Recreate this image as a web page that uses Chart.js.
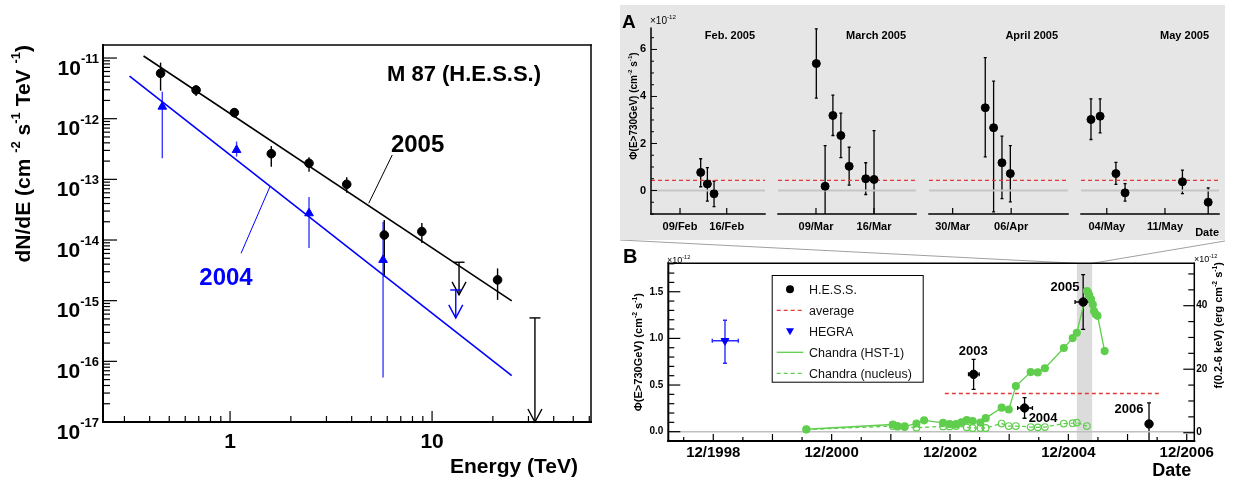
<!DOCTYPE html>
<html>
<head>
<meta charset="utf-8">
<title>M 87 H.E.S.S.</title>
<script src="https://cdn.jsdelivr.net/npm/chart.js"></script>
<style>
  body { margin: 0; background: #fff; }
  #page { position: relative; width: 1236px; height: 479px; overflow: hidden; }
  #page > div { position: absolute; }
  canvas { display: block; }
</style>
</head>
<body>
<div id="page">
  <div style="left:0;top:0"><canvas id="spec" width="600" height="479"></canvas></div>
  <div style="left:620px;top:5px;width:605px;height:235px;background:#e6e6e6"></div>
  <div style="left:620px;top:5px"><canvas id="pad0" width="151" height="235"></canvas></div>
  <div style="left:771px;top:5px"><canvas id="pad1" width="151" height="235"></canvas></div>
  <div style="left:922px;top:5px"><canvas id="pad2" width="152" height="235"></canvas></div>
  <div style="left:1074px;top:5px"><canvas id="pad3" width="151" height="235"></canvas></div>
  <div style="left:600px;top:240px"><canvas id="lc" width="636" height="239"></canvas></div>
</div>
<script>
var FAM = '"Liberation Sans", Arial, Helvetica, sans-serif';
Chart.defaults.font.family = FAM;
Chart.defaults.color = '#000';
Chart.defaults.animation = false;
Chart.defaults.events = [];
Chart.defaults.plugins.legend.display = false;
Chart.defaults.plugins.tooltip.enabled = false;

// ---- left: M 87 spectrum (E in TeV, dN/dE in cm-2 s-1 TeV-1) ----
var e2005 = [0.453, 0.679, 1.05, 1.60, 2.46, 3.78, 5.80, 8.90, 21.1];
var f2005 = [5.6e-12, 2.97e-12, 1.26e-12, 2.65e-13, 1.84e-13, 8.3e-14, 1.21e-14, 1.38e-14, 2.2e-15];
var f2005Hi = [8.4e-12, 3.6e-12, 1.48e-12, 3.55e-13, 2.31e-13, 1.08e-13, 2.13e-14, 1.9e-14, 3.4e-15];
var f2005Lo = [2.9e-12, 2.37e-12, 1.05e-12, 1.62e-13, 1.34e-13, 6.0e-14, 2.5e-15, 8.9e-15, 1.03e-15];
var ul2005E = [13.6, 32.3];
var ul2005F = [4.3e-15, 5.2e-16];
var ul2005Tip = [1.25e-15, 1e-17];
var e2004 = [0.462, 1.077, 2.46, 5.72];
var f2004 = [1.58e-12, 3.05e-13, 2.76e-14, 4.7e-15];
var f2004Hi = [2.79e-12, 4.2e-13, 5.1e-14, 2.0e-14];
var f2004Lo = [2.23e-13, 2.37e-13, 7.4e-15, 5.4e-17];
var ul2004E = [13.1];
var ul2004F = [1.5e-15];
var ul2004Tip = [5.2e-16];
var fit2005E = [0.373, 24.8];
var fit2005F = [1.08e-11, 9.9e-16];
var fit2004E = [0.318, 24.8];
var fit2004F = [5.05e-12, 5.8e-17];
var ptr2005E = [6.35, 4.86];
var ptr2005F = [2.52e-13, 4.04e-14];
var ptr2004E = [1.134, 1.576];
var ptr2004F = [6.05e-15, 7.58e-14];
var specXTicks = [0.3, 0.4, 0.5, 0.6, 0.7, 0.8, 0.9, 1, 2, 3, 4, 5, 6, 7, 8, 9, 10, 20, 30, 40, 50, 60];
var specDecades = [-17, -16, -15, -14, -13, -12, -11];

// ---- panel A: nightly flux 2005 (day of year, 1e-12 cm-2 s-1) ----
var febDay = [43.1, 44.1, 45.1];
var febFlux = [0.77, 0.28, -0.14];
var febHi = [1.35, 0.97, 0.40];
var febLo = [0.16, -0.45, -0.69];
var marDay = [68.04, 69.1, 70.04, 71.0, 72.0, 74.0, 75.0];
var marFlux = [5.40, 0.18, 3.19, 2.34, 1.03, 0.50, 0.47];
var marHi = [6.88, 1.91, 4.06, 3.29, 1.84, 1.18, 2.55];
var marLo = [3.93, -1.55, 2.34, 1.40, 0.23, -0.17, -1.6];
var aprDay = [92.9, 93.9, 94.9, 95.9];
var aprFlux = [3.52, 2.67, 1.18, 0.72];
var aprHi = [5.65, 4.65, 2.31, 1.91];
var aprLo = [1.43, -0.91, -0.35, -0.48];
var mayDay = [122.1, 123.2, 125.1, 126.2, 133.1, 136.2];
var mayFlux = [3.02, 3.16, 0.72, -0.10, 0.37, -0.50];
var mayHi = [3.90, 3.90, 1.20, 0.29, 0.87, 0.11];
var mayLo = [2.17, 2.45, 0.26, -0.45, -0.13, -1.1];
var avgA = 0.43;
var padMin = [35.65, 63.42, 86.17, 120.9];
var padMax = [52.74, 80.06, 102.8, 137.5];
var padTicks = [[40, 47], [68, 75], [89, 96], [124, 131]];
var padTickLabels = [['09/Feb', '16/Feb'], ['09/Mar', '16/Mar'], ['30/Mar', '06/Apr'], ['04/May', '11/May']];
var padTitles = ['Feb. 2005', 'March 2005', 'April 2005', 'May 2005'];
var padYTicks = [-1, -0.5, 0, 0.5, 1, 1.5, 2, 2.5, 3, 3.5, 4, 4.5, 5, 5.5, 6, 6.5];
var padYLabels = [0, 2, 4, 6];

// ---- panel B: light curve (decimal year) ----
var hessYear = [2003.316, 2004.177, 2005.167, 2006.28];
var hessFlux = [0.615, 0.254, 1.39, 0.083];
var hessHi = [0.776, 0.364, 1.683, 0.308];
var hessLo = [0.454, 0.144, 1.097, -0.142];
var hessXLo = [2003.23, 2004.06, 2005.03, 2006.28];
var hessXHi = [2003.41, 2004.31, 2005.30, 2006.28];
var hegraYear = [1999.115];
var hegraFlux = [0.975];
var hegraHi = [1.194];
var hegraLo = [0.733];
var hegraXLo = [1998.90];
var hegraXHi = [1999.34];
var hstYear = [2000.49, 2001.95, 2002.03, 2002.15, 2002.35, 2002.48, 2002.80, 2002.91, 2003.02, 2003.11, 2003.20,
  2003.30, 2003.43, 2003.52, 2003.79, 2003.91, 2004.03, 2004.28, 2004.40, 2004.52, 2004.84, 2004.99, 2005.06,
  2005.23, 2005.25, 2005.27, 2005.30, 2005.33, 2005.35, 2005.38, 2005.41, 2005.53];
var hstFlux = [1.1, 2.6, 2.1, 2.0, 2.9, 3.9, 3.1, 2.7, 2.7, 3.3, 4.0, 3.7, 3.2, 4.6, 7.9, 7.3, 14.7, 19.1, 19.0,
  20.3, 26.7, 29.8, 31.5, 44.6, 44.2, 43.3, 42.0, 40.4, 38.3, 37.3, 36.8, 25.7];
var nucYear = [2000.49, 2001.95, 2002.03, 2002.15, 2002.35, 2002.80, 2002.91, 2003.02, 2003.20, 2003.30, 2003.43,
  2003.52, 2003.79, 2003.91, 2004.03, 2004.28, 2004.40, 2004.52, 2004.84, 2004.99, 2005.06, 2005.23];
var nucFlux = [1.0, 2.1, 1.9, 1.8, 1.6, 2.0, 2.0, 2.1, 1.7, 1.5, 1.5, 1.5, 2.9, 2.1, 2.1, 1.8, 1.7, 1.8, 2.9, 3.0,
  3.2, 2.1];
var lcAvgYears = [2002.83, 2006.47];
var lcAvg = 0.41;
var lcBand = [2005.06, 2005.32];
var lcXMin = 1998.157, lcXMax = 2007.045;
var lcTickYears = [1998.417, 1998.917, 1999.417, 1999.917, 2000.417, 2000.917, 2001.417, 2001.917, 2002.417,
  2002.917, 2003.417, 2003.917, 2004.417, 2004.917, 2005.417, 2005.917, 2006.417, 2006.917];
var lcLabelYears = [1998.917, 2000.917, 2002.917, 2004.917, 2006.917];
var lcLabels = ['12/1998', '12/2000', '12/2002', '12/2004', '12/2006'];
var lcYTicks = [0, 0.1, 0.2, 0.3, 0.4, 0.5, 0.6, 0.7, 0.8, 0.9, 1, 1.1, 1.2, 1.3, 1.4, 1.5, 1.6, 1.7, 1.8];
var lcY2Ticks = [0, 5, 10, 15, 20, 25, 30, 35, 40, 45, 50];
var lcNotes = [['2003', 2003.31, 0.876], ['2004', 2004.49, 0.15], ['2005', 2004.86, 1.56], ['2006', 2005.94, 0.25]];
var GREEN = '#5fce4c';
var RED = '#e23a3a';

// ---- helpers ----
function pts(xs, ys) { return xs.map(function (x, i) { return { x: x, y: ys[i] }; }); }
function seg(ctx, x1, y1, x2, y2) { ctx.beginPath(); ctx.moveTo(x1, y1); ctx.lineTo(x2, y2); ctx.stroke(); }
function isDecade(v) { var l = Math.log10(v); return Math.abs(l - Math.round(l)) < 1e-6; }
function tickList(vals) { return function (s) { s.ticks = vals.map(function (v) { return { value: v }; }); }; }
function fixW(w) { return function (s) { s.width = w; }; }
function fixH(h) { return function (s) { s.height = h; }; }
var noGrid = { display: false, drawTicks: false };
var noBorder = { display: false };

function richText(ctx, segs, x, y, size, bold, align, rot, color, raise) {
  ctx.save();
  ctx.translate(x, y);
  if (rot) ctx.rotate(rot);
  ctx.fillStyle = color || '#000';
  ctx.textBaseline = 'alphabetic';
  ctx.textAlign = 'left';
  var w = bold ? 'bold ' : '';
  var parts = segs.map(function (s) {
    var sup = s.charAt(0) === '^';
    var t = sup ? s.slice(1) : s;
    var sz = sup ? size * 0.62 : size;
    ctx.font = w + sz + 'px ' + FAM;
    return { t: t, sup: sup, sz: sz, w: ctx.measureText(t).width };
  });
  var total = parts.reduce(function (a, p) { return a + p.w; }, 0);
  var cx = align === 'right' ? -total : (align === 'center' ? -total / 2 : 0);
  var base = size * 0.36;
  var up = size * (raise || 0.45);
  parts.forEach(function (p) {
    ctx.font = w + p.sz + 'px ' + FAM;
    ctx.fillText(p.t, cx, base - (p.sup ? up : 0));
    cx += p.w;
  });
  ctx.restore();
}

function drawErrors(c) {
  var ctx = c.ctx, a = c.chartArea;
  ctx.save();
  ctx.beginPath();
  ctx.rect(a.left, a.top, a.right - a.left, a.bottom - a.top);
  ctx.clip();
  var sets = c.data.datasets.slice().reverse();
  sets.forEach(function (ds) {
    var e = ds.err;
    if (!e) return;
    var sx = c.scales[ds.xAxisID || 'x'], sy = c.scales[ds.yAxisID || 'y'];
    ctx.strokeStyle = e.color;
    ctx.lineWidth = e.width;
    ds.data.forEach(function (p, i) {
      var x = sx.getPixelForValue(p.x), y = sy.getPixelForValue(p.y);
      if (e.yLo) {
        var y1 = sy.getPixelForValue(e.yLo[i]), y2 = sy.getPixelForValue(e.yHi[i]);
        seg(ctx, x, y1, x, y2);
        if (e.cap) { seg(ctx, x - e.cap, y1, x + e.cap, y1); seg(ctx, x - e.cap, y2, x + e.cap, y2); }
      }
      if (e.xLo && e.xLo[i] !== e.xHi[i]) {
        var x1 = sx.getPixelForValue(e.xLo[i]), x2 = sx.getPixelForValue(e.xHi[i]);
        seg(ctx, x1, y, x2, y);
        if (e.cap) { seg(ctx, x1, y - e.cap, x1, y + e.cap); seg(ctx, x2, y - e.cap, x2, y + e.cap); }
      }
    });
  });
  ctx.restore();
}

function drawLimits(c) {
  var ctx = c.ctx;
  c.data.datasets.forEach(function (ds) {
    var u = ds.ul;
    if (!u) return;
    var sx = c.scales.x, sy = c.scales.y;
    ctx.save();
    ctx.strokeStyle = u.color;
    ctx.lineWidth = u.width;
    ds.data.forEach(function (p, i) {
      var x = sx.getPixelForValue(p.x), y1 = sy.getPixelForValue(p.y), y2 = sy.getPixelForValue(u.tip[i]);
      seg(ctx, x - u.cap, y1, x + u.cap, y1);
      seg(ctx, x, y1, x, y2);
      ctx.beginPath();
      ctx.moveTo(x - u.head, y2 - u.len);
      ctx.lineTo(x, y2);
      ctx.lineTo(x + u.head, y2 - u.len);
      ctx.stroke();
    });
    ctx.restore();
  });
}

function frame(c, sides, w, wThin) {
  var ctx = c.ctx, a = c.chartArea;
  ctx.save();
  ctx.strokeStyle = '#000';
  ctx.lineCap = 'square';
  ctx.lineWidth = w;
  if (sides.indexOf('l') >= 0) seg(ctx, a.left, a.top, a.left, a.bottom);
  if (sides.indexOf('b') >= 0) seg(ctx, a.left, a.bottom, a.right, a.bottom);
  ctx.lineWidth = wThin || w;
  if (sides.indexOf('t') >= 0) seg(ctx, a.left, a.top, a.right, a.top);
  if (sides.indexOf('r') >= 0) seg(ctx, a.right, a.top, a.right, a.bottom);
  ctx.restore();
}

function inTicks(c, id, side, isMajor, majLen, minLen, w) {
  var s = c.scales[id], ctx = c.ctx, a = c.chartArea;
  ctx.save();
  ctx.strokeStyle = '#000';
  ctx.lineWidth = w;
  s.ticks.forEach(function (t) {
    var p = s.getPixelForValue(t.value);
    var L = isMajor(t.value) ? majLen : minLen;
    if (side === 'bottom') seg(ctx, p, a.bottom, p, a.bottom - L);
    else if (side === 'left') seg(ctx, a.left, p, a.left + L, p);
    else seg(ctx, a.right, p, a.right - L, p);
  });
  ctx.restore();
}

// ---- left chart ----
var specYTicks = [];
specDecades.forEach(function (d) {
  for (var k = 1; k <= 9; k++) {
    var v = k * Math.pow(10, d);
    if (v <= 1.64e-11) specYTicks.push(v);
  }
});

var specPlugin = {
  id: 'specDeco',
  beforeDatasetsDraw: drawErrors,
  afterDatasetsDraw: function (c) {
    var ctx = c.ctx, a = c.chartArea, sx = c.scales.x, sy = c.scales.y;
    drawLimits(c);
    inTicks(c, 'x', 'bottom', isDecade, 11, 6, 1.2);
    inTicks(c, 'y', 'left', isDecade, 14, 7, 1.2);
    frame(c, 'lbtr', 2, 1.5);
    sy.ticks.forEach(function (t) {
      if (!isDecade(t.value)) return;
      var y = sy.getPixelForValue(t.value);
      richText(ctx, ['10', '^' + Math.round(Math.log10(t.value))], a.left - 4, y + 9, 21, true, 'right', 0, '#000', 0.55);
    });
    richText(ctx, ['dN/dE (cm ', '^-2', ' s', '^-1', ' TeV ', '^-1', ')'], 22, a.top, 21, true, 'right', -Math.PI / 2);
    richText(ctx, ['Energy (TeV)'], 578, 465, 21, true, 'right');
    richText(ctx, ['M 87 (H.E.S.S.)'], 387, 73, 22, true, 'left');
    richText(ctx, ['2005'], sx.getPixelForValue(8.48), sy.getPixelForValue(3.98e-13), 24, true, 'center');
    richText(ctx, ['2004'], sx.getPixelForValue(0.955), sy.getPixelForValue(2.47e-15), 24, true, 'center', 0, '#0000ff');
  }
};

new Chart(document.getElementById('spec'), {
  type: 'scatter',
  data: {
    datasets: [
      { label: '2005', data: pts(e2005, f2005), pointStyle: 'circle', pointRadius: 4.3,
        backgroundColor: '#000', borderColor: '#000', err: { yLo: f2005Lo, yHi: f2005Hi, color: '#000', width: 1.4 } },
      { label: '2004', data: pts(e2004, f2004), pointStyle: 'triangle', pointRadius: 5,
        backgroundColor: '#0000ff', borderColor: '#0000ff', err: { yLo: f2004Lo, yHi: f2004Hi, color: '#3c3cff', width: 1.4 } },
      { label: '2005 UL', data: pts(ul2005E, ul2005F), pointRadius: 0,
        ul: { tip: ul2005Tip, color: '#000', cap: 5.5, head: 7, len: 13, width: 1.4 } },
      { label: '2004 UL', data: pts(ul2004E, ul2004F), pointRadius: 0,
        ul: { tip: ul2004Tip, color: '#0000ff', cap: 5.5, head: 7, len: 13, width: 1.4 } },
      { label: '2005 fit', data: pts(fit2005E, fit2005F), showLine: true, pointRadius: 0, borderColor: '#000', borderWidth: 1.6 },
      { label: '2004 fit', data: pts(fit2004E, fit2004F), showLine: true, pointRadius: 0, borderColor: '#0000ff', borderWidth: 1.6 },
      { label: '2005 note', data: pts(ptr2005E, ptr2005F), showLine: true, pointRadius: 0, borderColor: '#000', borderWidth: 1 },
      { label: '2004 note', data: pts(ptr2004E, ptr2004F), showLine: true, pointRadius: 0, borderColor: '#0000ff', borderWidth: 1 }
    ]
  },
  options: {
    responsive: false,
    devicePixelRatio: 1,
    layout: { padding: { left: 0, top: 45, right: 9, bottom: 0 } },
    scales: {
      x: {
        type: 'logarithmic', bounds: 'data', min: 0.235, max: 61.2,
        afterBuildTicks: tickList(specXTicks), afterFit: fixH(57),
        grid: noGrid, border: noBorder,
        ticks: {
          autoSkip: false, maxRotation: 0, padding: 8, font: { size: 21, weight: 'bold' },
          callback: function (v) { return v === 1 ? '1' : (v === 10 ? '10' : ''); }
        }
      },
      y: {
        type: 'logarithmic', bounds: 'data', min: 1e-17, max: 1.64e-11,
        afterBuildTicks: tickList(specYTicks), afterFit: fixW(103),
        grid: noGrid, border: noBorder, ticks: { display: false }
      }
    }
  },
  plugins: [specPlugin]
});

// ---- panel A: four monthly pads ----
var padSets = [
  { day: febDay, flux: febFlux, hi: febHi, lo: febLo },
  { day: marDay, flux: marFlux, hi: marHi, lo: marLo },
  { day: aprDay, flux: aprFlux, hi: aprHi, lo: aprLo },
  { day: mayDay, flux: mayFlux, hi: mayHi, lo: mayLo }
];

function makePad(k) {
  var first = k === 0, P = padSets[k];
  var plugin = {
    id: 'padDeco' + k,
    beforeDatasetsDraw: drawErrors,
    afterDatasetsDraw: function (c) {
      var ctx = c.ctx, a = c.chartArea;
      inTicks(c, 'x', 'bottom', function () { return true; }, 6, 6, 1.2);
      if (first) {
        inTicks(c, 'y', 'left', function (v) { return Math.abs(v / 2 - Math.round(v / 2)) < 1e-6; }, 6, 3, 1);
      }
      frame(c, first ? 'lb' : 'b', 1.5);
      richText(ctx, [padTitles[k]], a.right - 10, 30, 11, true, 'right');
      if (first) {
        richText(ctx, ['A'], 2, 16, 19, true, 'left');
        richText(ctx, ['\u00d710', '^-12'], 30, 15, 10, false, 'left');
        richText(ctx, ['\u03a6(E>730GeV) (cm', '^-2', ' s', '^-1', ')'], 13, 101, 10, true, 'center', -Math.PI / 2);
      }
      if (k === 3) richText(ctx, ['Date'], a.right, 227, 11, true, 'right');
    }
  };
  var yScale = {
    type: 'linear', bounds: 'data', min: -1, max: 6.9, display: first,
    afterBuildTicks: tickList(padYTicks),
    grid: noGrid, border: noBorder,
    ticks: {
      autoSkip: false, padding: 5, font: { size: 11, weight: 'bold' },
      callback: function (v) { return padYLabels.indexOf(v) >= 0 ? String(v) : ''; }
    }
  };
  if (first) yScale.afterFit = fixW(31);
  return new Chart(document.getElementById('pad' + k), {
    type: 'scatter',
    data: {
      datasets: [
        { label: padTitles[k], data: pts(P.day, P.flux), pointRadius: 4, backgroundColor: '#000', borderColor: '#000',
          err: { yLo: P.lo, yHi: P.hi, cap: 1.5, color: '#000', width: 1.3 } },
        { label: 'average', data: pts([padMin[k], padMax[k]], [avgA, avgA]), showLine: true, pointRadius: 0,
          borderColor: RED, borderWidth: 1.3, borderDash: [4, 3] },
        { label: 'zero', data: pts([padMin[k], padMax[k]], [0, 0]), showLine: true, pointRadius: 0,
          borderColor: '#c6c6c6', borderWidth: 2 }
      ]
    },
    options: {
      responsive: false,
      devicePixelRatio: 1,
      layout: { padding: { left: first ? 0 : 7, right: 6, top: 23.3, bottom: 0 } },
      scales: {
        x: {
          type: 'linear', bounds: 'data', min: padMin[k], max: padMax[k],
          afterBuildTicks: tickList(padTicks[k]), afterFit: fixH(26),
          grid: noGrid, border: noBorder,
          ticks: {
            autoSkip: false, maxRotation: 0, padding: 6, font: { size: 11, weight: 'bold' },
            callback: function (v, i) { return padTickLabels[k][i]; }
          }
        },
        y: yScale
      }
    },
    plugins: [plugin]
  });
}
[0, 1, 2, 3].forEach(makePad);

// ---- panel B: long-term light curve ----
var lcPlugin = {
  id: 'lcDeco',
  beforeDatasetsDraw: function (c) {
    var ctx = c.ctx, a = c.chartArea, sx = c.scales.x;
    var x1 = sx.getPixelForValue(lcBand[0]), x2 = sx.getPixelForValue(lcBand[1]);
    ctx.save();
    ctx.fillStyle = '#dcdcdc';
    ctx.fillRect(x1, a.top, x2 - x1, a.bottom - a.top);
    ctx.restore();
    drawErrors(c);
  },
  afterDatasetsDraw: function (c) {
    var ctx = c.ctx, a = c.chartArea, sx = c.scales.x, sy = c.scales.y;
    var x1 = sx.getPixelForValue(lcBand[0]), x2 = sx.getPixelForValue(lcBand[1]);
    // zoom connectors up to panel A (panel A spans x 620..1225, bottom at y 240 of the page)
    ctx.save();
    ctx.strokeStyle = '#a0a0a0';
    ctx.lineWidth = 1;
    seg(ctx, 20, 0, x1, a.top);
    seg(ctx, 625, 1, x2, a.top);
    ctx.restore();
    inTicks(c, 'x', 'bottom', function (v) { var f = v + 0.083; return Math.abs(f - Math.round(f)) < 0.01; }, 7, 4, 1.2);
    inTicks(c, 'y', 'left', function (v) { return Math.abs(v * 2 - Math.round(v * 2)) < 1e-6; }, 12, 6, 1.2);
    inTicks(c, 'y2', 'right', function (v) { return v % 20 === 0; }, 11, 6, 1.2);
    frame(c, 'lbtr', 2, 1.5);
    // legend
    var bx = 171.7, by = 35, bw = 151, bh = 106.7;
    ctx.save();
    ctx.fillStyle = '#fff';
    ctx.fillRect(bx, by, bw, bh);
    ctx.strokeStyle = '#000';
    ctx.lineWidth = 1;
    ctx.strokeRect(bx + 0.5, by + 0.5, bw, bh);
    var items = c.data.datasets.filter(function (d) { return d.leg; }).sort(function (p, q) { return p.leg - q.leg; });
    items.forEach(function (d, i) {
      var y = by + 14.3 + i * 21, mx = bx + 18.3;
      ctx.strokeStyle = d.borderColor;
      ctx.fillStyle = d.backgroundColor;
      ctx.lineWidth = 1.3;
      if (d.legKind === 'dot') {
        ctx.beginPath(); ctx.arc(mx, y, 4, 0, Math.PI * 2); ctx.fill();
      } else if (d.legKind === 'tri') {
        ctx.beginPath(); ctx.moveTo(mx - 4, y - 3); ctx.lineTo(mx + 4, y - 3); ctx.lineTo(mx, y + 4); ctx.closePath(); ctx.fill();
      } else {
        ctx.setLineDash(d.legKind === 'dash' ? [4, 3] : []);
        seg(ctx, bx + 5, y, bx + 31.6, y);
        ctx.setLineDash([]);
      }
      richText(ctx, [d.label], bx + 37.3, y, 12.5, false, 'left', 0, '#111');
    });
    ctx.restore();
    lcNotes.forEach(function (n) {
      richText(ctx, [n[0]], sx.getPixelForValue(n[1]), sy.getPixelForValue(n[2]), 13, true, 'center');
    });
    richText(ctx, ['B'], 23, 15.5, 20, true, 'left');
    richText(ctx, ['\u00d710', '^-12'], 67, 19.7, 9, false, 'left');
    richText(ctx, ['\u00d710', '^-12'], 594, 19, 9, false, 'left');
    richText(ctx, ['\u03a6(E>730GeV) (cm', '^-2', ' s', '^-1', ')'], 38, (a.top + a.bottom) / 2, 11, true, 'center', -Math.PI / 2);
    richText(ctx, ['f(0.2-6 keV) (erg cm', '^-2', ' s', '^-1', ')'], 617.7, 22, 11, true, 'right', -Math.PI / 2);
    richText(ctx, ['Date'], a.right - 3, 230, 18, true, 'right');
  }
};

new Chart(document.getElementById('lc'), {
  type: 'scatter',
  data: {
    datasets: [
      { label: 'H.E.S.S.', leg: 1, legKind: 'dot', data: pts(hessYear, hessFlux), pointRadius: 4.2,
        backgroundColor: '#000', borderColor: '#000',
        err: { yLo: hessLo, yHi: hessHi, xLo: hessXLo, xHi: hessXHi, cap: 2, color: '#000', width: 1.3 } },
      { label: 'HEGRA', leg: 3, legKind: 'tri', data: pts(hegraYear, hegraFlux), pointStyle: 'triangle', pointRotation: 180,
        pointRadius: 4.5, backgroundColor: '#0000ff', borderColor: '#0000ff',
        err: { yLo: hegraLo, yHi: hegraHi, xLo: hegraXLo, xHi: hegraXHi, cap: 2, color: '#2a2aff', width: 1.4 } },
      { label: 'Chandra (HST-1)', leg: 4, legKind: 'line', yAxisID: 'y2', data: pts(hstYear, hstFlux), showLine: true,
        pointRadius: 3.4, backgroundColor: GREEN, borderColor: GREEN, borderWidth: 1.3 },
      { label: 'Chandra (nucleus)', leg: 5, legKind: 'dash', yAxisID: 'y2', data: pts(nucYear, nucFlux), showLine: true,
        borderDash: [4, 3], pointRadius: 3.3, pointBorderWidth: 1.2, backgroundColor: 'rgba(0,0,0,0)',
        borderColor: GREEN, borderWidth: 1.3 },
      { label: 'average', leg: 2, legKind: 'dash', data: pts(lcAvgYears, [lcAvg, lcAvg]), showLine: true, pointRadius: 0,
        borderColor: RED, backgroundColor: RED, borderWidth: 1.4, borderDash: [4, 3] },
      { label: 'zero', data: pts([lcXMin, lcXMax], [0, 0]), showLine: true, pointRadius: 0,
        borderColor: '#c0c0c0', borderWidth: 1.5 }
    ]
  },
  options: {
    responsive: false,
    devicePixelRatio: 1,
    layout: { padding: { left: 0, top: 23.3, right: 0, bottom: 0 } },
    scales: {
      x: {
        type: 'linear', bounds: 'data', min: lcXMin, max: lcXMax,
        afterBuildTicks: tickList(lcTickYears), afterFit: fixH(38),
        grid: noGrid, border: noBorder,
        ticks: {
          autoSkip: false, maxRotation: 0, padding: 3, font: { size: 15, weight: 'bold' },
          callback: function (v) {
            for (var i = 0; i < lcLabelYears.length; i++) if (Math.abs(v - lcLabelYears[i]) < 1e-6) return lcLabels[i];
            return '';
          }
        }
      },
      y: {
        type: 'linear', position: 'left', bounds: 'data', min: -0.1, max: 1.805,
        afterBuildTicks: tickList(lcYTicks), afterFit: fixW(68.3),
        grid: noGrid, border: noBorder,
        ticks: {
          autoSkip: false, padding: 5, font: { size: 10, weight: 'bold' },
          callback: function (v) { return Math.abs(v * 2 - Math.round(v * 2)) < 1e-6 ? v.toFixed(1) : ''; }
        }
      },
      y2: {
        type: 'linear', position: 'right', bounds: 'data', min: -2.6, max: 53.35,
        afterBuildTicks: tickList(lcY2Ticks), afterFit: fixW(41.7),
        grid: noGrid, border: noBorder,
        ticks: {
          autoSkip: false, padding: 2, font: { size: 10, weight: 'bold' },
          callback: function (v) { return v % 20 === 0 ? String(v) : ''; }
        }
      }
    }
  },
  plugins: [lcPlugin]
});
</script>
</body>
</html>
